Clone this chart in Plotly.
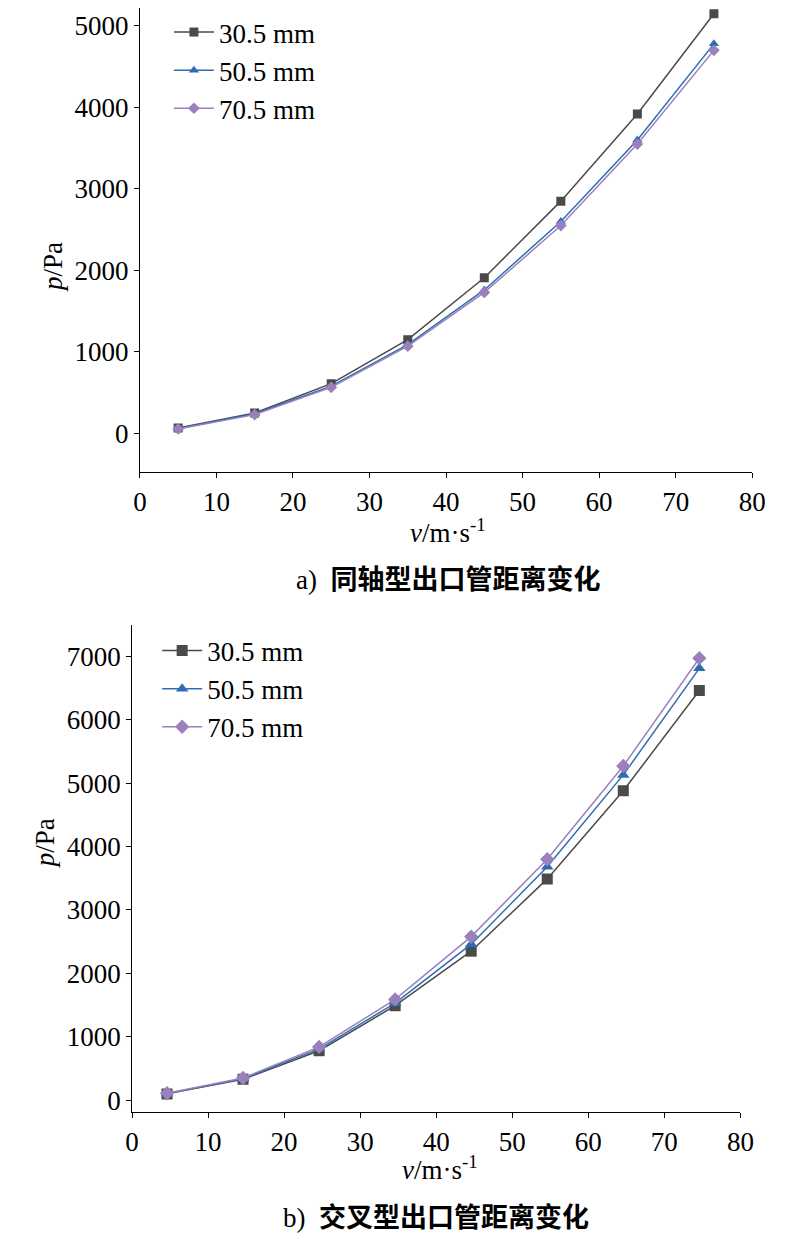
import plotly.graph_objects as go

# data
v_a = [5, 15, 25, 35, 45, 55, 65, 75]
p_a_305 = [65, 250, 610, 1150, 1910, 2850, 3920, 5150]
p_a_505 = [60, 240, 580, 1090, 1760, 2600, 3600, 4780]
p_a_705 = [55, 230, 565, 1070, 1730, 2550, 3550, 4700]

v_b = [4.6, 14.6, 24.6, 34.6, 44.6, 54.6, 64.6, 74.6]
p_b_305 = [100, 330, 780, 1490, 2350, 3490, 4880, 6460]
p_b_505 = [105, 340, 810, 1530, 2460, 3680, 5130, 6810]
p_b_705 = [110, 350, 840, 1590, 2580, 3800, 5270, 6970]

names = ["30.5 mm", "50.5 mm", "70.5 mm"]
colors = ["#4a4a4a", "#2f6db2", "#9a80bd"]
symbols = ["square", "triangle-up", "diamond"]
FONT = "Liberation Serif"

fig = go.Figure()
for i, ys in enumerate([p_a_305, p_a_505, p_a_705]):
    fig.add_trace(go.Scatter(x=v_a, y=ys, name=names[i], mode="lines+markers",
                             line=dict(color=colors[i], width=1.5),
                             marker=dict(symbol=symbols[i], size=9, color=colors[i]),
                             xaxis="x", yaxis="y", legend="legend"))
for i, ys in enumerate([p_b_305, p_b_505, p_b_705]):
    fig.add_trace(go.Scatter(x=v_b, y=ys, name=names[i], mode="lines+markers",
                             line=dict(color=colors[i], width=1.5),
                             marker=dict(symbol=symbols[i], size=11, color=colors[i]),
                             xaxis="x2", yaxis="y2", legend="legend2"))

axis_style = dict(showgrid=False, zeroline=False, showline=True, linecolor="black",
                  linewidth=1, ticks="outside", ticklen=5, tickcolor="black",
                  tickfont=dict(size=27, family=FONT, color="black"))

# page body adds ~8px offset, so domains are shifted up/left slightly
fig.update_layout(
    width=785, height=1252, margin=dict(l=0, r=0, t=0, b=0, autoexpand=False),
    plot_bgcolor="white", paper_bgcolor="white",
    font=dict(family=FONT, color="black"),
    xaxis=dict(domain=[0.168, 0.948], range=[0, 80], dtick=10, anchor="y", **axis_style),
    yaxis=dict(domain=[0.629, 1.0], range=[-480, 5220], dtick=1000, anchor="x", **axis_style),
    xaxis2=dict(domain=[0.158, 0.933], range=[0, 80], dtick=10, anchor="y2", **axis_style),
    yaxis2=dict(domain=[0.118, 0.507], range=[-190, 7490], dtick=1000, anchor="x2", **axis_style),
    legend=dict(x=0.205, y=1.0, xanchor="left", yanchor="top", bgcolor="rgba(0,0,0,0)",
                font=dict(size=27, family=FONT), tracegroupgap=0, itemwidth=40),
    legend2=dict(x=0.19, y=0.506, xanchor="left", yanchor="top", bgcolor="rgba(0,0,0,0)",
                 font=dict(size=27, family=FONT), tracegroupgap=0, itemwidth=40),
    showlegend=True,
)

ann = [
    dict(text="<i>p</i>/Pa", x=0.035, y=0.815, textangle=-90, font_size=27),
    dict(text="<i>v</i>/m·s<sup>-1</sup>", x=0.56, y=0.582, font_size=27),
    dict(text="a)  <b>同轴型出口管距离变化</b>", x=0.56, y=0.543, font_size=27),
    dict(text="<i>p</i>/Pa", x=0.025, y=0.311, textangle=-90, font_size=27),
    dict(text="<i>v</i>/m·s<sup>-1</sup>", x=0.55, y=0.058, font_size=27),
    dict(text="b)  <b>交叉型出口管距离变化</b>", x=0.545, y=0.02, font_size=27),
]
for a in ann:
    fig.add_annotation(xref="paper", yref="paper", showarrow=False,
                       font=dict(family=FONT + ", Noto Sans CJK SC", size=a.pop("font_size"), color="black"),
                       **a)

fig.write_html("out.html")
